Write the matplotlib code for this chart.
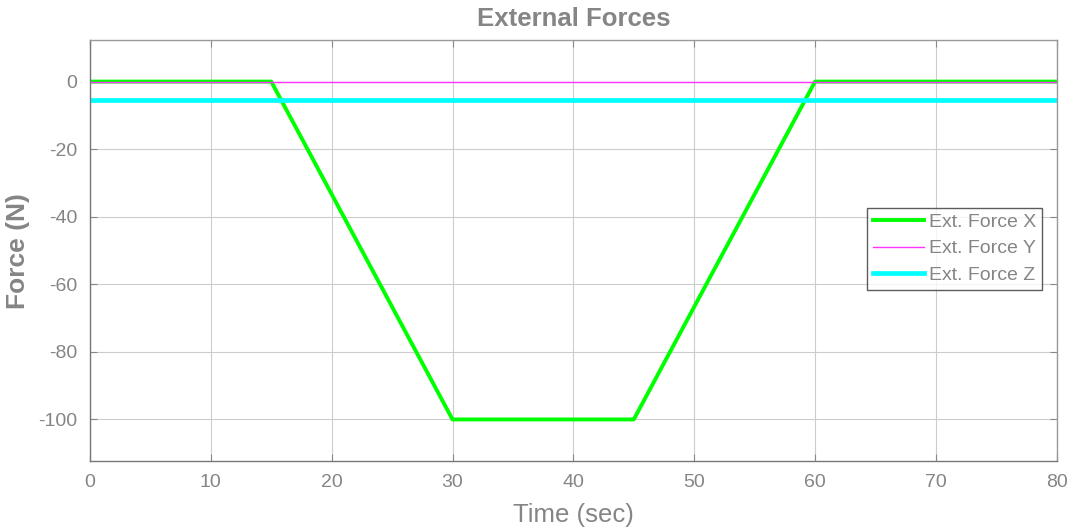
import numpy as np
import matplotlib.pyplot as plt

plt.rcParams['font.family'] = ['Liberation Sans', 'DejaVu Sans']
plt.rcParams['axes.unicode_minus'] = False

# breakpoints of the applied forces (time in sec, force in N)
t_x = [0, 15, 30, 45, 60, 80]
f_x = [0, 0, -100, -100, 0, 0]
t_y = [0, 80]
f_y = [0, 0]
t_z = [0, 80]
f_z = [-5.5, -5.5]

grey = '#858585'

fig = plt.figure(figsize=(10.75, 5.31), dpi=100)
ax = fig.add_axes([0.0837, 0.1318, 0.8993, 0.7922])

ax.plot(t_x, f_x, color='#00ff00', lw=2.8, label='Ext. Force X')
ax.plot(t_y, f_y, color='#ff33ff', lw=1.0, label='Ext. Force Y')
ax.plot(t_z, f_z, color='#00ffff', lw=3.4, label='Ext. Force Z')

ax.set_xlim(0, 80)
ax.set_ylim(-112.3, 12.2)
ax.set_xticks(np.arange(0, 81, 10))
ax.set_yticks(np.arange(-100, 1, 20))
ax.grid(True, color='#cccccc', lw=0.8)
ax.set_axisbelow(True)

for s in ax.spines.values():
    s.set_color('#999999')
    s.set_linewidth(1.0)
ax.spines['left'].set_color('#777777')
ax.spines['bottom'].set_color('#777777')
ax.tick_params(direction='in', top=True, right=True, length=5, width=0.8,
               color='#888888', labelcolor=grey, labelsize=14, pad=9)

ax.set_title('External Forces', color=grey, fontsize=18.5, fontweight='bold', pad=10)
ax.set_xlabel('Time (sec)', color=grey, fontsize=18.5, labelpad=9)
ax.set_ylabel('Force (N)', color=grey, fontsize=19, fontweight='bold', labelpad=6)

leg = ax.legend(loc='center right', bbox_to_anchor=(0.9845, 0.505), fontsize=14,
                frameon=True, fancybox=False, handlelength=2.6, handletextpad=0.25,
                borderpad=0.3, labelspacing=0.45, borderaxespad=0)
leg.get_frame().set_edgecolor('#333333')
leg.get_frame().set_linewidth(1.0)
for txt in leg.get_texts():
    txt.set_color(grey)

fig.savefig('out.png', dpi=100)
